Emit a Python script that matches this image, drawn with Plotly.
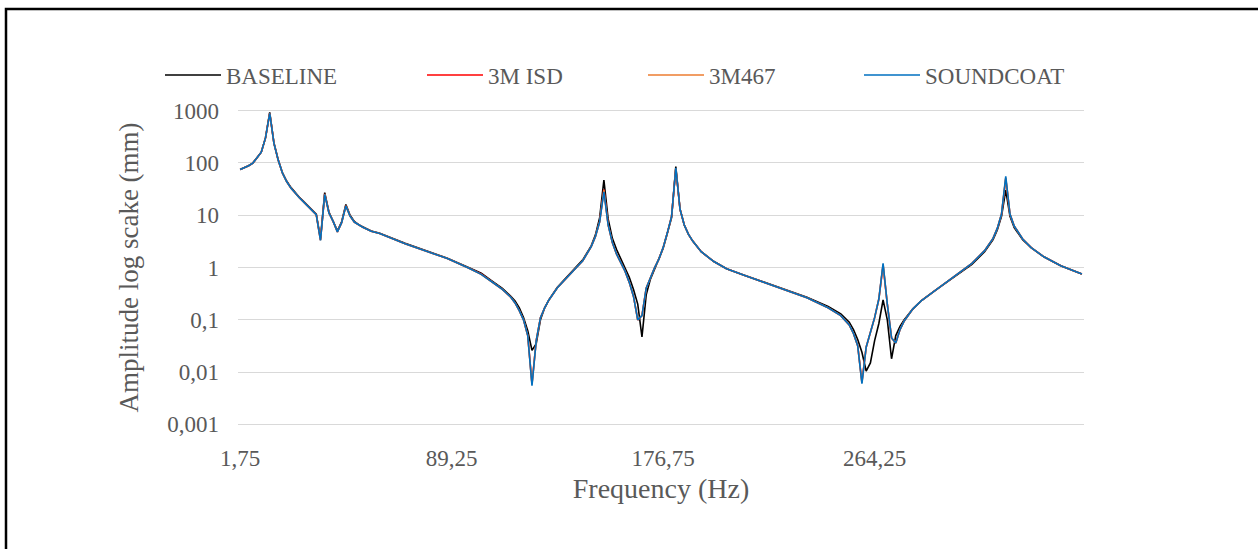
import plotly.graph_objects as go

# Frequency (Hz) sample points
freq = [1.75, 3.5, 5.25, 7.0, 8.75, 10.5, 12.25, 14.0, 15.75, 17.5, 19.25, 21.0, 22.75, 24.5, 26.25,
        28.0, 29.75, 31.5, 33.25, 35.0, 36.75, 38.5, 40.25, 42.0, 43.75, 45.5, 47.25, 49.0, 50.75,
        52.5, 56.0, 59.5, 70.0, 78.75, 87.5, 96.25, 101.5, 106.75, 110.25, 113.75, 115.5, 117.25,
        119.0, 120.75, 122.5, 124.25, 126.0, 127.75, 129.5, 133.0, 136.5, 140.0, 143.5, 147.0,
        148.75, 150.5, 152.25, 154.0, 155.75, 157.5, 159.25, 161.0, 162.75, 164.5, 166.25, 168.0,
        169.75, 171.5, 173.25, 175.0, 176.75, 178.5, 180.25, 182.0, 183.75, 185.5, 187.25, 189.0,
        192.5, 197.75, 203.0, 210.0, 218.75, 227.5, 236.25, 245.0, 250.25, 253.75, 255.5, 257.25,
        259.0, 260.75, 262.5, 264.25, 266.0, 267.75, 269.5, 271.25, 273.0, 274.75, 276.5, 280.0,
        283.5, 288.75, 294.0, 299.25, 304.5, 309.75, 313.25, 315.0, 316.75, 318.5, 320.25, 322.0,
        325.5, 329.0, 334.25, 341.25, 350.0]

baseline = [75, 80, 88, 99, 125, 160, 300, 920, 240, 115, 65, 45, 34, 27, 22,
            18.5, 15.5, 13, 10.5, 3.6, 27, 11.5, 7.8, 5.0, 7.5, 16, 10, 7.6, 6.6,
            6.0, 5.0, 4.5, 2.9, 2.1, 1.5, 1.0, 0.78, 0.52, 0.40, 0.28, 0.23, 0.17,
            0.11, 0.062, 0.026, 0.035, 0.10, 0.17, 0.24, 0.42, 0.63, 0.92, 1.4, 2.6,
            4.2, 9.0, 47, 8.5, 3.6, 2.2, 1.5, 1.0, 0.65, 0.38, 0.20, 0.047,
            0.30, 0.60, 0.95, 1.4, 2.3, 4.5, 9.0, 85, 13, 6.5, 4.3, 3.2,
            2.0, 1.3, 0.95, 0.72, 0.52, 0.38, 0.27, 0.18, 0.13, 0.09, 0.065, 0.042,
            0.024, 0.0105, 0.015, 0.04, 0.085, 0.24, 0.10, 0.018, 0.05, 0.075, 0.10, 0.16,
            0.23, 0.35, 0.52, 0.78, 1.15, 2.0, 3.4, 5.2, 9.5, 30, 9.5, 5.8,
            3.4, 2.4, 1.6, 1.08, 0.75]

isd_3m = [75, 80, 88, 99, 125, 160, 300, 890, 236, 113, 64, 44, 33, 26, 21.5,
          18, 15, 12.6, 10.2, 3.35, 25.5, 11, 7.6, 4.8, 7.2, 15.2, 9.6, 7.4, 6.5,
          5.9, 4.95, 4.45, 2.85, 2.08, 1.48, 0.98, 0.75, 0.5, 0.38, 0.27, 0.21, 0.15,
          0.10, 0.05, 0.006, 0.04, 0.11, 0.17, 0.24, 0.41, 0.62, 0.90, 1.35, 2.5,
          3.9, 7.6, 31, 6.6, 3.0, 1.8, 1.25, 0.85, 0.52, 0.28, 0.10, 0.12,
          0.40, 0.65, 1.0, 1.45, 2.4, 4.6, 9.5, 78, 13, 6.5, 4.3, 3.2,
          2.0, 1.3, 0.95, 0.72, 0.52, 0.38, 0.265, 0.17, 0.12, 0.08, 0.055, 0.032,
          0.0065, 0.03, 0.06, 0.11, 0.25, 1.1, 0.2, 0.045, 0.036, 0.065, 0.095, 0.16,
          0.23, 0.35, 0.53, 0.8, 1.2, 2.1, 3.6, 5.6, 10.4, 50, 10.4, 6.2,
          3.5, 2.4, 1.6, 1.08, 0.75]

m467_3m = [75, 80, 88, 99, 125, 160, 300, 885, 235, 113, 64, 44, 33, 26, 21.5,
           18, 15, 12.6, 10.2, 3.32, 25.2, 11, 7.6, 4.8, 7.2, 15.1, 9.6, 7.4, 6.5,
           5.9, 4.95, 4.45, 2.85, 2.08, 1.48, 0.98, 0.74, 0.5, 0.38, 0.27, 0.21, 0.15,
           0.10, 0.05, 0.0058, 0.04, 0.11, 0.17, 0.24, 0.41, 0.62, 0.90, 1.35, 2.5,
           3.9, 7.5, 30, 6.5, 3.0, 1.8, 1.25, 0.85, 0.52, 0.28, 0.10, 0.12,
           0.40, 0.65, 1.0, 1.45, 2.4, 4.6, 9.5, 79, 13, 6.5, 4.3, 3.2,
           2.0, 1.3, 0.95, 0.72, 0.52, 0.38, 0.265, 0.17, 0.12, 0.08, 0.055, 0.032,
           0.0062, 0.03, 0.06, 0.11, 0.25, 1.15, 0.2, 0.045, 0.036, 0.065, 0.095, 0.16,
           0.23, 0.35, 0.53, 0.8, 1.2, 2.1, 3.6, 5.6, 10.5, 52, 10.5, 6.2,
           3.5, 2.4, 1.6, 1.08, 0.75]

soundcoat = [75, 80, 88, 99, 125, 160, 300, 880, 235, 113, 64, 44, 33, 26, 21.5,
             18, 15, 12.6, 10.2, 3.3, 25, 11, 7.6, 4.8, 7.2, 15, 9.6, 7.4, 6.5,
             5.9, 4.95, 4.45, 2.85, 2.08, 1.48, 0.98, 0.74, 0.5, 0.38, 0.27, 0.21, 0.15,
             0.10, 0.05, 0.0055, 0.04, 0.11, 0.17, 0.24, 0.41, 0.62, 0.90, 1.35, 2.5,
             3.9, 7.5, 28, 6.5, 3.0, 1.8, 1.25, 0.85, 0.52, 0.28, 0.10, 0.12,
             0.40, 0.65, 1.0, 1.45, 2.4, 4.6, 9.5, 80, 13, 6.5, 4.3, 3.2,
             2.0, 1.3, 0.95, 0.72, 0.52, 0.38, 0.265, 0.17, 0.12, 0.08, 0.055, 0.032,
             0.006, 0.03, 0.06, 0.11, 0.25, 1.2, 0.2, 0.045, 0.036, 0.065, 0.095, 0.16,
             0.23, 0.35, 0.53, 0.8, 1.2, 2.1, 3.6, 5.6, 10.5, 55, 10.5, 6.2,
             3.5, 2.4, 1.6, 1.08, 0.75]

series_names = ["BASELINE", "3M ISD", "3M467", "SOUNDCOAT"]
series_values = [baseline, isd_3m, m467_3m, soundcoat]
series_colors = ["#000000", "#FF0000", "#ED7D31", "#0070C0"]

x_tick_vals = [1.75, 89.25, 176.75, 264.25]
x_tick_text = ["1,75", "89,25", "176,75", "264,25"]
y_tick_vals = [0.001, 0.01, 0.1, 1, 10, 100, 1000]
y_tick_text = ["0,001", "0,01", "0,1", "1", "10", "100", "1000"]

FONT = "Liberation Serif"
GREY = "#595959"

W, H = 1258, 549
L, R, T, B = 238, 174, 109, 123
PW = W - L - R
PH = H - T - B

def px_to_paper_x(px):
    return (px - L) / PW

def px_to_paper_y(py):
    return (H - B - py) / PH

legend_keys = ["legend", "legend2", "legend3", "legend4"]
legend_left_px = [160, 422, 643, 859]

fig = go.Figure()
for name, vals, col, lk in zip(series_names, series_values, series_colors, legend_keys):
    fig.add_trace(go.Scatter(x=freq, y=vals, mode="lines", name=name,
                             line=dict(color=col, width=1.6), legend=lk))

layout_legends = {}
for lk, lx in zip(legend_keys, legend_left_px):
    layout_legends[lk] = dict(x=px_to_paper_x(lx), xanchor="left", y=px_to_paper_y(75),
                              yanchor="middle", orientation="h", bgcolor="rgba(0,0,0,0)",
                              itemwidth=56,
                              font=dict(family=FONT, size=23, color=GREY), borderwidth=0)

fig.update_layout(
    width=W, height=H,
    font=dict(family=FONT, color=GREY, size=23),
    margin=dict(l=L, r=R, t=T, b=B, autoexpand=False),
    paper_bgcolor="white", plot_bgcolor="white",
    showlegend=True,
    **layout_legends,
    xaxis=dict(range=[0.875, 350.875], tickvals=x_tick_vals, ticktext=x_tick_text,
               showgrid=False, zeroline=False, showline=False, ticks="",
               ticklabelstandoff=16,
               tickfont=dict(family=FONT, size=23, color=GREY),
               title=dict(text="Frequency (Hz)", font=dict(family=FONT, size=28, color=GREY),
                          standoff=8)),
    yaxis=dict(type="log", range=[-3.03, 3.03], tickvals=y_tick_vals, ticktext=y_tick_text,
               showgrid=True, gridcolor="#D9D9D9", gridwidth=1.3, zeroline=False,
               showline=False, ticks="", ticklabelstandoff=18,
               tickfont=dict(family=FONT, size=23, color=GREY),
               title=dict(text="Amplitude log scake (mm)",
                          font=dict(family=FONT, size=27, color=GREY), standoff=20)),
    shapes=[dict(type="rect", xref="paper", yref="paper",
                 x0=px_to_paper_x(6), x1=px_to_paper_x(1400),
                 y0=px_to_paper_y(700), y1=px_to_paper_y(9),
                 line=dict(color="black", width=2.5), fillcolor="rgba(0,0,0,0)", layer="above")],
)

fig.write_html("out.html")
